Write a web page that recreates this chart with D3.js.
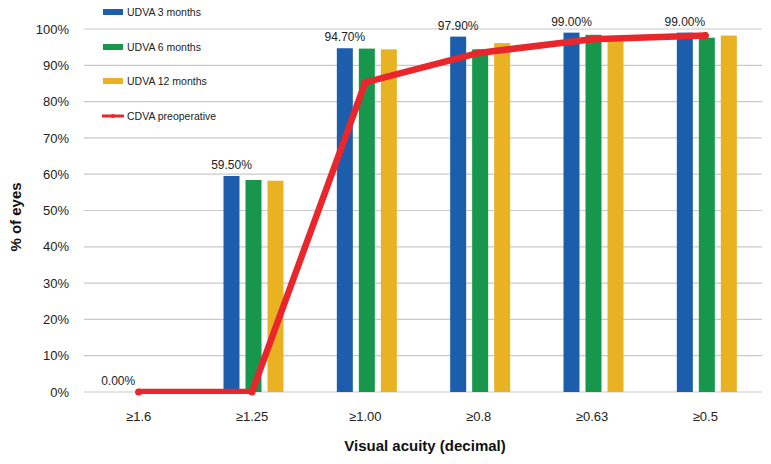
<!DOCTYPE html>
<html><head><meta charset="utf-8">
<script src="https://cdn.jsdelivr.net/npm/d3@7"></script>
<style>body{margin:0;background:#fff}svg{display:block;font-family:"Liberation Sans",Arial,sans-serif}</style>
</head><body><svg id="c" width="771" height="464"></svg>
<script>
const categories = ["≥1.6","≥1.25","≥1.00","≥0.8","≥0.63","≥0.5"];
const udva3 = [0, 59.5, 94.7, 97.9, 99.0, 99.0];
const udva6 = [0, 58.4, 94.6, 94.4, 98.4, 97.6];
const udva12 = [0, 58.2, 94.4, 96.1, 97.8, 98.2];
const cdvaPre = [0, 0, 85.3, 93.4, 97.2, 98.2];
const barLabels = ["0.00%","59.50%","94.70%","97.90%","99.00%","99.00%"];
const yTicks = [0,10,20,30,40,50,60,70,80,90,100];
const seriesNames = ["UDVA 3 months","UDVA 6 months","UDVA 12 months"];
const lineName = "CDVA preoperative";
const colors = ["#1C5EAC","#16974B","#E8B223"];
const lineColor = "#E8262B";

const svg = d3.select("#c");
const pLeft = 82, pRight = 762, pTop = 29, pBottom = 392;
const x = d3.scaleBand().domain(categories).range([pLeft, pRight]);
const y = d3.scaleLinear().domain([0,100]).range([pBottom, pTop]);
const x1 = d3.scaleBand().domain(seriesNames).range([-30,30]).paddingInner(1-16/22);
const off = 1.5;

svg.append("defs").append("clipPath").attr("id","plotclip").append("rect")
  .attr("x", pLeft-10).attr("y", 0).attr("width", pRight-pLeft+20).attr("height", pBottom+2);

// gridlines
svg.append("g").selectAll("line").data(yTicks).join("line")
  .attr("x1", pLeft+2).attr("x2", pRight).attr("y1", d=>y(d)).attr("y2", d=>y(d))
  .attr("stroke", "#c9c9c9").attr("stroke-width", 1.2);

// y axis labels
svg.append("g").selectAll("text").data(yTicks).join("text")
  .attr("x", 69).attr("y", d=>y(d)).attr("dy","0.36em").attr("text-anchor","end")
  .attr("font-size", 13).attr("fill","#222").text(d=>d+"%");

// x labels
svg.append("g").selectAll("text").data(categories).join("text")
  .attr("x", d=>x(d)+x.bandwidth()/2).attr("y", 416).attr("dy","0.36em").attr("text-anchor","middle")
  .attr("font-size", 13).attr("fill","#222").text(d=>d);

// bars
const series = [udva3, udva6, udva12];
series.forEach((vals, si) => {
  svg.append("g").selectAll("rect").data(vals).join("rect")
    .attr("x", (d,i)=>x(categories[i])+x.bandwidth()/2+off+x1(seriesNames[si]))
    .attr("width", x1.bandwidth())
    .attr("y", d=>y(d)).attr("height", d=>y(0)-y(d))
    .attr("fill", colors[si]);
});

// line
const line = d3.line().x((d,i)=>x(categories[i])+x.bandwidth()/2).y(d=>y(d));
svg.append("path").datum(cdvaPre).attr("d", line).attr("fill","none").attr("clip-path","url(#plotclip)")
  .attr("stroke", lineColor).attr("stroke-width", 6.5).attr("stroke-linejoin","round").attr("stroke-linecap","round");
svg.append("g").selectAll("circle").data(cdvaPre).join("circle")
  .attr("cx",(d,i)=>x(categories[i])+x.bandwidth()/2).attr("cy", d=>y(d)).attr("r",3.5).attr("fill",lineColor);

// bar labels
svg.append("g").selectAll("text").data(udva3).join("text")
  .attr("x", (d,i)=>x(categories[i])+x.bandwidth()/2+off+x1(seriesNames[0])+x1.bandwidth()/2)
  .attr("y", d=>y(d)-7).attr("text-anchor","middle").attr("font-size", 12).attr("fill","#222")
  .text((d,i)=>barLabels[i]);

// axis titles
svg.append("text").attr("transform","translate(21,217) rotate(-90)").attr("text-anchor","middle")
  .attr("font-size",15).attr("font-weight","bold").attr("fill","#111").text("% of eyes");
svg.append("text").attr("x",425).attr("y",446).attr("dy","0.36em").attr("text-anchor","middle")
  .attr("font-size",15).attr("font-weight","bold").attr("fill","#111").text("Visual acuity (decimal)");

// legend
const legY = [12, 47, 81, 116];
const lg = svg.append("g");
seriesNames.forEach((n,i)=>{
  lg.append("rect").attr("x",103).attr("y",legY[i]-3).attr("width",20).attr("height",6).attr("fill",colors[i]);
  lg.append("text").attr("x",127).attr("y",legY[i]).attr("dy","0.36em").attr("font-size",10.5).attr("fill","#222").text(n);
});
lg.append("line").attr("x1",102).attr("x2",124).attr("y1",legY[3]).attr("y2",legY[3]).attr("stroke",lineColor).attr("stroke-width",3);
lg.append("circle").attr("cx",113).attr("cy",legY[3]).attr("r",2).attr("fill",lineColor);
lg.append("text").attr("x",127).attr("y",legY[3]).attr("dy","0.36em").attr("font-size",10.5).attr("fill","#222").text(lineName);
</script></body></html>
